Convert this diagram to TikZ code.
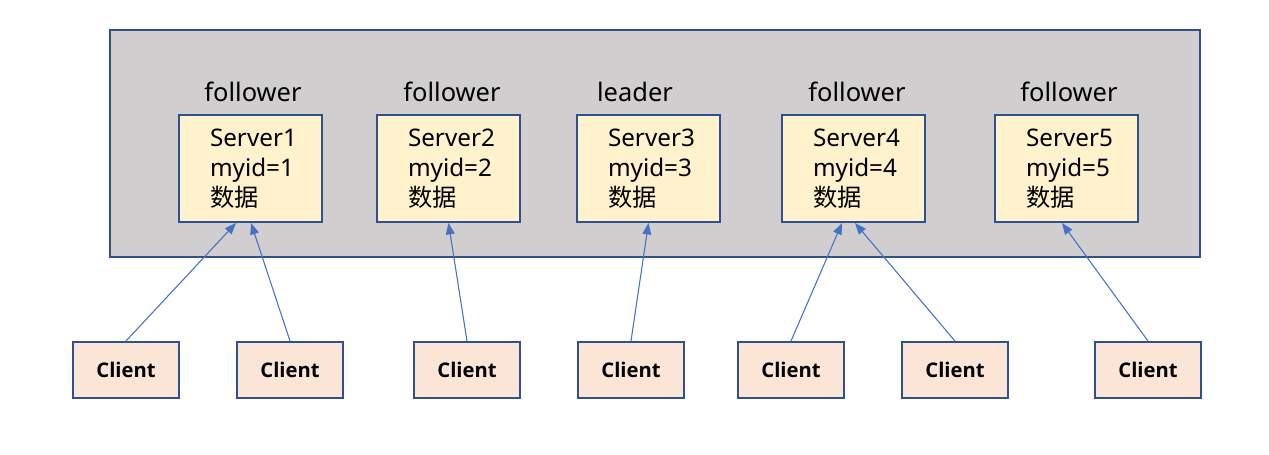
\documentclass[tikz,border=0pt]{standalone}
\usepackage{fontspec}
\usetikzlibrary{arrows.meta}
\setmainfont{Noto Sans}
\newfontfamily\cjk{Noto Sans CJK SC}
\newfontfamily\clientfont{Open Sans}
\definecolor{edgeblue}{HTML}{2F528F}
\definecolor{arrowblue}{HTML}{4472C4}
\definecolor{groupgray}{HTML}{D0CECF}
\definecolor{serverfill}{HTML}{FFF2CC}
\definecolor{clientfill}{HTML}{FBE5D6}
\tikzset{
  group/.style={draw=edgeblue,fill=groupgray,line width=1.1pt,
    minimum width=21.8cm,minimum height=4.54cm},
  server/.style={draw=edgeblue,fill=serverfill,line width=1.1pt,
    minimum width=2.86cm,minimum height=2.14cm,text width=1.62cm,align=left,
    font=\fontsize{13.8}{17}\selectfont},
  client/.style={draw=edgeblue,fill=clientfill,line width=1.1pt,
    minimum width=2.12cm,minimum height=1.12cm,
    font=\clientfont\fontsize{11.5}{14}\selectfont\bfseries},
  role/.style={font=\fontsize{14.5}{17}\selectfont},
  req/.style={->,draw=arrowblue,fill=arrowblue,line width=0.6pt}
}
\begin{document}
\begin{tikzpicture}[x=0.02cm,y=-0.02cm,>={Triangle[length=6.5pt,width=5pt]},
  every node/.style={inner sep=1pt}]
  \useasboundingbox (0,0) rectangle (1269,455);
  \node[group] (grp) at (655,143.5) {};
  % servers
  \node[server] (s1) at (250.5,168.5) {Server1\\myid=1\\{\cjk 数据}};
  \node[server] (s2) at (448.5,168.5) {Server2\\myid=2\\{\cjk 数据}};
  \node[server] (s3) at (648.5,168.5) {Server3\\myid=3\\{\cjk 数据}};
  \node[server] (s4) at (853.5,168.5) {Server4\\myid=4\\{\cjk 数据}};
  \node[server] (s5) at (1066.5,168.5) {Server5\\myid=5\\{\cjk 数据}};
  \node[role] (r1) at (253,92) {follower};
  \node[role] (r2) at (452,92) {follower};
  \node[role] (r3) at (635,92) {leader};
  \node[role] (r4) at (857,92) {follower};
  \node[role] (r5) at (1069,92) {follower};
  % clients
  \node[client] (c1) at (126,370) {Client};
  \node[client] (c2) at (290,370) {Client};
  \node[client] (c3) at (467,370) {Client};
  \node[client] (c4) at (631,370) {Client};
  \node[client] (c5) at (791,370) {Client};
  \node[client] (c6) at (955,370) {Client};
  \node[client] (c7) at (1148,370) {Client};
  \coordinate (s1a) at (236,223);
  \coordinate (s1b) at (251,223);
  \coordinate (s4a) at (842,223);
  \coordinate (s4b) at (855,223);
  \coordinate (s5a) at (1062,223);
  \draw[req] (c1.north)--(s1a);
  \draw[req] (c2.north)--(s1b);
  \draw[req] (c3.north)--(s2.south);
  \draw[req] (c4.north)--(s3.south);
  \draw[req] (c5.north)--(s4a);
  \draw[req] (c6.north)--(s4b);
  \draw[req] (c7.north)--(s5a);
\end{tikzpicture}
\end{document}
